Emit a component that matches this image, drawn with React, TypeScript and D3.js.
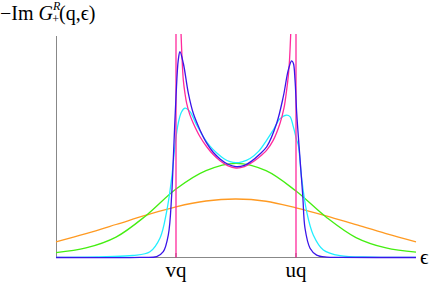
import React from "react";
import * as d3 from "d3";

const W = 436, H = 283;
const xDomain = [0, 3];
const yDomain = [0, 1];
const tickValues = [1, 2];
const tickLabels = ["vq", "uq"];

// orange (highest temperature)
const orangeX = [0, 0.25, 0.5, 0.75, 1, 1.25, 1.5, 1.75, 2, 2.25, 2.5, 2.75, 3];
const orangeY = [0.071, 0.108, 0.149, 0.191, 0.229, 0.255, 0.264, 0.254, 0.224, 0.188, 0.148, 0.108, 0.071];
// green
const greenX = [0, 0.25, 0.5, 0.75, 1, 1.25, 1.5, 1.75, 2, 2.25, 2.5, 2.75, 3];
const greenY = [0.022, 0.043, 0.092, 0.189, 0.309, 0.392, 0.425, 0.392, 0.3, 0.183, 0.09, 0.043, 0.024];
// cyan
const cyanX = [0, 0.42, 0.64, 0.783, 0.867, 0.922, 0.964, 0.992, 1.019, 1.046, 1.075, 1.117, 1.172, 1.228, 1.283, 1.34, 1.4, 1.45, 1.5, 1.55, 1.617, 1.69, 1.756, 1.811, 1.867, 1.922, 1.95, 1.978, 2.006, 2.019, 2.047, 2.089, 2.144, 2.228, 2.367, 2.642, 3];
const cyanY = [0.0005, 0.004, 0.009, 0.026, 0.088, 0.207, 0.359, 0.508, 0.607, 0.657, 0.674, 0.658, 0.598, 0.545, 0.503, 0.472, 0.446, 0.433, 0.428, 0.432, 0.447, 0.48, 0.53, 0.576, 0.627, 0.643, 0.636, 0.59, 0.53, 0.508, 0.358, 0.207, 0.102, 0.034, 0.008, 0.002, 0.0005];
// blue
const blueX = [0, 0.7, 0.839, 0.894, 0.936, 0.964, 0.978, 1.0, 1.019, 1.033, 1.061, 1.103, 1.144, 1.2, 1.256, 1.31, 1.367, 1.43, 1.5, 1.57, 1.63, 1.69, 1.756, 1.839, 1.894, 1.936, 1.964, 1.978, 1.992, 2.006, 2.028, 2.056, 2.075, 2.117, 2.172, 2.256, 2.367, 3];
const blueY = [0, 0.0005, 0.004, 0.026, 0.102, 0.282, 0.45, 0.726, 0.892, 0.929, 0.877, 0.741, 0.651, 0.576, 0.516, 0.475, 0.445, 0.422, 0.41, 0.416, 0.435, 0.463, 0.5, 0.606, 0.726, 0.847, 0.888, 0.877, 0.801, 0.651, 0.485, 0.282, 0.132, 0.042, 0.011, 0.002, 0.0005, 0];
// magenta (zero temperature), inside vq..uq
const magX = [1.042, 1.052, 1.061, 1.075, 1.089, 1.115, 1.144, 1.2, 1.256, 1.31, 1.367, 1.43, 1.5, 1.57, 1.63, 1.69, 1.756, 1.811, 1.867, 1.9, 1.922, 1.936, 1.946, 1.956];
const magY = [1.01, 0.88, 0.801, 0.74, 0.696, 0.645, 0.606, 0.545, 0.5, 0.465, 0.437, 0.415, 0.404, 0.41, 0.428, 0.452, 0.485, 0.53, 0.606, 0.675, 0.756, 0.82, 0.892, 1.01];

const colors = {
  orange: "#ff9a22",
  green: "#44ee11",
  cyan: "#22eeff",
  blue: "#3a14e8",
  magenta: "#ff2a9c",
};

export default function App() {
  const x = d3.scaleLinear().domain(xDomain).range([56, 416]);
  const y = d3.scaleLinear().domain(yDomain).range([257.5, 36]);
  const line = d3
    .line<[number, number]>()
    .x((d) => x(d[0]))
    .y((d) => y(d[1]))
    .curve(d3.curveCatmullRom.alpha(0.5));
  const zip = (a: number[], b: number[]) => a.map((v, i) => [v, b[i]] as [number, number]);
  const serif = "'Liberation Serif', 'Times New Roman', serif";
  return (
    <svg width={W} height={H} style={{ position: "absolute", left: 0, top: 0 }}>
      <defs>
        <clipPath id="plot">
          <rect x={50} y={34} width={380} height={230} />
        </clipPath>
      </defs>
      <rect width={W} height={H} fill="#fff" />
      <line x1={56.5} x2={56.5} y1={36} y2={257.5} stroke="#888" strokeWidth={1} />
      <line x1={56} x2={416} y1={257.5} y2={257.5} stroke="#888" strokeWidth={1} />
      {tickValues.map((t) => (
        <line key={t} x1={x(t)} x2={x(t)} y1={257.5} y2={253} stroke="#555" strokeWidth={1} />
      ))}
      <g clipPath="url(#plot)" fill="none" strokeWidth={1.3}>
        <path d={line(zip(orangeX, orangeY))!} stroke={colors.orange} />
        <path d={line(zip(greenX, greenY))!} stroke={colors.green} />
        <path d={line(zip(cyanX, cyanY))!} stroke={colors.cyan} />
        <line x1={x(1)} x2={x(1)} y1={y(0)} y2={y(1.01)} stroke={colors.magenta} />
        <line x1={x(2)} x2={x(2)} y1={y(0)} y2={y(1.01)} stroke={colors.magenta} />
        <path d={line(zip(magX, magY))!} stroke={colors.magenta} />
        <path d={line(zip(blueX, blueY))!} stroke={colors.blue} />
      </g>
      {tickValues.map((t, i) => (
        <text key={t} x={x(t)} y={277} textAnchor="middle" fontFamily={serif} fontSize={21}>
          {tickLabels[i]}
        </text>
      ))}
      <text x={420} y={264} fontFamily={serif} fontSize={21}>ϵ</text>
      <text x={0} y={20} fontFamily={serif} fontSize={20}>
        <tspan>−Im </tspan>
        <tspan fontStyle="italic">G</tspan>
        <tspan fontStyle="italic" fontSize={12} dy={-10}>R</tspan>
        <tspan fontSize={12} dx={-8} dy={12.5}>+</tspan>
        <tspan dy={-2.5}>(q,ϵ)</tspan>
      </text>
    </svg>
  );
}
